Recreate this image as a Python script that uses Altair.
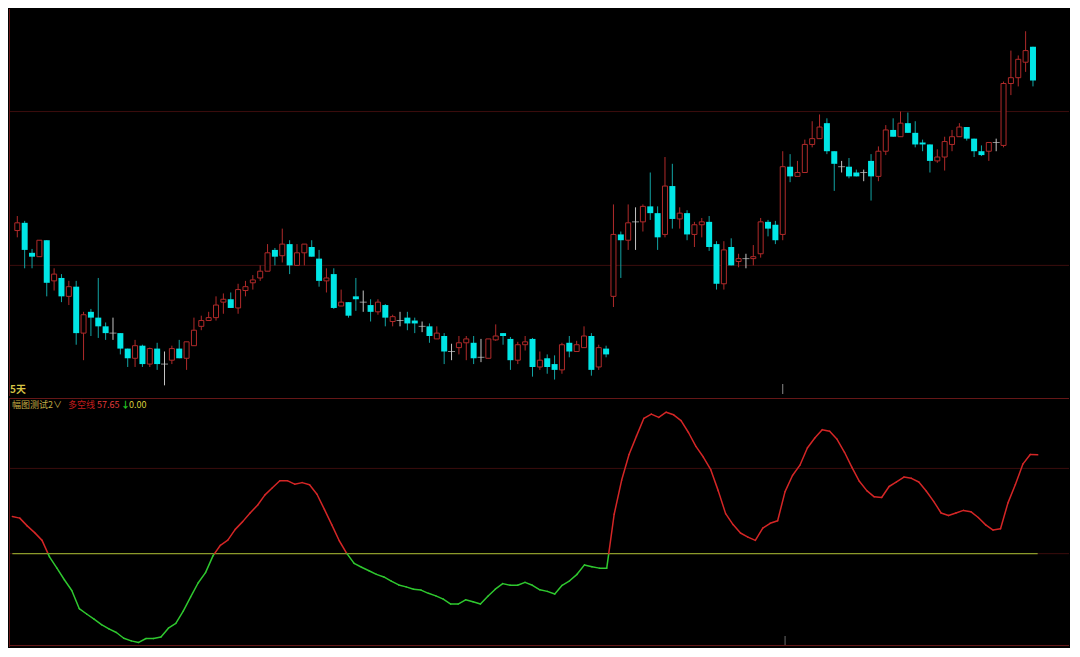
import altair as alt
import pandas as pd
import numpy as np

# ---------------- data ----------------
opens = [11.71, 11.79, 11.48, 11.44, 11.61, 11.19, 11.22, 11.03, 11.13, 10.65,
         10.87, 10.81, 10.72, 10.65, 10.65, 10.49, 10.39, 10.52, 10.33, 10.49,
         10.33, 10.37, 10.49, 10.39, 10.52, 10.72, 10.78, 10.81, 10.97, 11.00,
         10.91, 11.09, 11.17, 11.22, 11.29, 11.51, 11.45, 11.57, 11.35, 11.48,
         11.54, 11.42, 11.19, 11.26, 10.93, 10.97, 11.03, 10.97, 10.94, 10.87,
         10.94, 10.77, 10.78, 10.81, 10.78, 10.72, 10.72, 10.59, 10.62, 10.46,
         10.50, 10.55, 10.55, 10.40, 10.39, 10.58, 10.65, 10.59, 10.37, 10.53,
         10.59, 10.30, 10.39, 10.33, 10.27, 10.55, 10.46, 10.50, 10.62, 10.30,
         10.49, 11.03, 11.67, 11.61, 11.80, 11.80, 11.96, 11.89, 11.67, 12.17,
         11.83, 11.89, 11.67, 11.77, 11.80, 11.57, 11.16, 11.54, 11.39, 11.42,
         11.42, 11.47, 11.80, 11.77, 11.67, 12.37, 12.27, 12.31, 12.60, 12.66,
         12.82, 12.53, 12.37, 12.37, 12.31, 12.31, 12.43, 12.27, 12.53, 12.75,
         12.68, 12.82, 12.72, 12.62, 12.60, 12.43, 12.47, 12.60, 12.68, 12.78,
         12.66, 12.53, 12.53, 12.62, 12.59, 13.23, 13.29, 13.45, 13.61]
highs = [11.86, 11.81, 11.52, 11.61, 11.61, 11.32, 11.26, 11.19, 11.19, 10.87,
         10.90, 11.22, 10.76, 10.81, 10.65, 10.49, 10.58, 10.53, 10.50, 10.55,
         10.46, 10.52, 10.58, 10.56, 10.81, 10.83, 10.87, 11.03, 11.06, 11.07,
         11.16, 11.19, 11.25, 11.35, 11.57, 11.53, 11.73, 11.61, 11.57, 11.57,
         11.61, 11.51, 11.32, 11.32, 11.10, 10.97, 11.22, 11.09, 11.00, 11.00,
         10.95, 10.84, 10.87, 10.87, 10.81, 10.77, 10.75, 10.72, 10.65, 10.54,
         10.62, 10.62, 10.62, 10.59, 10.59, 10.74, 10.65, 10.61, 10.56, 10.62,
         10.60, 10.46, 10.43, 10.42, 10.55, 10.62, 10.57, 10.72, 10.65, 10.53,
         10.52, 11.98, 11.70, 11.98, 11.95, 11.98, 12.31, 11.96, 12.47, 12.40,
         11.95, 11.92, 11.80, 11.84, 11.86, 11.60, 11.60, 11.63, 11.47, 11.47,
         11.56, 11.84, 11.82, 11.81, 12.53, 12.50, 12.43, 12.65, 12.84, 12.91,
         12.87, 12.53, 12.43, 12.46, 12.34, 12.34, 12.50, 12.58, 12.80, 12.87,
         12.94, 12.93, 12.84, 12.65, 12.60, 12.55, 12.68, 12.75, 12.82, 12.78,
         12.66, 12.59, 12.62, 12.66, 13.25, 13.57, 13.52, 13.77, 13.61]
lows = [11.64, 11.32, 11.32, 11.44, 11.03, 11.09, 10.97, 10.94, 10.53, 10.37,
        10.62, 10.60, 10.58, 10.58, 10.43, 10.30, 10.30, 10.30, 10.30, 10.27,
        10.11, 10.33, 10.39, 10.27, 10.52, 10.68, 10.78, 10.78, 10.85, 10.91,
        10.85, 11.03, 11.10, 11.19, 11.29, 11.35, 11.38, 11.26, 11.35, 11.35,
        11.44, 11.13, 11.07, 10.90, 10.93, 10.81, 10.88, 10.87, 10.77, 10.84,
        10.72, 10.72, 10.72, 10.68, 10.65, 10.66, 10.55, 10.59, 10.33, 10.37,
        10.43, 10.37, 10.33, 10.35, 10.39, 10.57, 10.53, 10.27, 10.33, 10.47,
        10.20, 10.27, 10.23, 10.17, 10.23, 10.40, 10.46, 10.50, 10.21, 10.27,
        10.40, 10.92, 11.22, 11.51, 11.51, 11.70, 11.82, 11.51, 11.64, 11.73,
        11.73, 11.61, 11.54, 11.64, 11.50, 11.10, 11.10, 11.35, 11.33, 11.32,
        11.35, 11.43, 11.65, 11.57, 11.61, 12.21, 12.27, 12.31, 12.57, 12.66,
        12.50, 12.12, 12.31, 12.25, 12.27, 12.22, 12.02, 12.22, 12.49, 12.68,
        12.68, 12.72, 12.57, 12.53, 12.31, 12.41, 12.33, 12.53, 12.68, 12.64,
        12.47, 12.48, 12.43, 12.53, 12.57, 13.11, 13.20, 13.35, 13.20]
closes = [11.79, 11.51, 11.44, 11.61, 11.17, 11.26, 11.03, 11.13, 10.65, 10.84,
          10.81, 10.72, 10.65, 10.65, 10.49, 10.39, 10.52, 10.33, 10.49, 10.33,
          10.33, 10.49, 10.39, 10.56, 10.68, 10.78, 10.81, 10.94, 11.00, 10.91,
          11.10, 11.13, 11.20, 11.29, 11.48, 11.44, 11.57, 11.35, 11.48, 11.57,
          11.44, 11.19, 11.22, 10.91, 10.97, 10.83, 11.00, 10.97, 10.87, 10.97,
          10.81, 10.82, 10.78, 10.75, 10.75, 10.72, 10.62, 10.65, 10.46, 10.46,
          10.55, 10.59, 10.39, 10.40, 10.59, 10.62, 10.62, 10.37, 10.53, 10.56,
          10.30, 10.37, 10.30, 10.27, 10.53, 10.46, 10.53, 10.62, 10.27, 10.50,
          10.43, 11.67, 11.61, 11.79, 11.80, 11.96, 11.89, 11.64, 12.17, 11.83,
          11.89, 11.67, 11.77, 11.80, 11.54, 11.16, 11.51, 11.35, 11.42, 11.42,
          11.44, 11.80, 11.73, 11.61, 12.37, 12.27, 12.31, 12.60, 12.66, 12.78,
          12.53, 12.40, 12.37, 12.27, 12.27, 12.31, 12.27, 12.53, 12.75, 12.68,
          12.82, 12.72, 12.60, 12.60, 12.43, 12.47, 12.63, 12.68, 12.78, 12.66,
          12.53, 12.49, 12.62, 12.62, 13.23, 13.29, 13.48, 13.57, 13.26]

# 多空线 indicator (one value per bar)
indicator = [52.88, 52.75, 52.15, 51.63, 51.03, 49.75, 48.88, 47.98, 47.15, 45.75,
             45.33, 44.93, 44.50, 44.18, 43.90, 43.45, 43.25, 43.13, 43.43, 43.43,
             43.55, 44.23, 44.60, 45.55, 46.65, 47.73, 48.53, 49.83, 50.65, 51.05,
             51.88, 52.48, 53.15, 53.75, 54.55, 55.10, 55.65, 55.65, 55.38, 55.50,
             55.33, 54.60, 53.43, 52.23, 51.00, 50.03, 49.25, 48.95, 48.68, 48.40,
             48.20, 47.88, 47.58, 47.43, 47.25, 47.18, 46.93, 46.73, 46.48, 46.10,
             46.10, 46.43, 46.28, 46.10, 46.70, 47.25, 47.68, 47.55, 47.55, 47.78,
             47.55, 47.20, 47.08, 46.88, 47.55, 47.90, 48.40, 49.13, 48.98, 48.88,
             48.88, 53.05, 55.68, 57.68, 59.10, 60.48, 60.80, 60.55, 60.95, 60.75,
             60.30, 59.38, 58.30, 57.48, 56.50, 54.88, 53.10, 52.25, 51.60, 51.28,
             51.03, 51.98, 52.35, 52.55, 54.80, 56.05, 56.85, 58.18, 58.95, 59.60,
             59.48, 58.85, 57.85, 56.68, 55.60, 54.88, 54.40, 54.35, 55.20, 55.55,
             55.93, 55.83, 55.55, 54.85, 54.05, 53.15, 52.95, 53.15, 53.35, 53.25,
             52.80, 52.23, 51.83, 51.93, 53.93, 55.35, 56.93, 57.68, 57.65]

price_grid = [12.94, 11.35]
ind_grid = [56.6, 50.0]
ind_level = 50.0
marker_bar = 104

# ---------------- styling / layout ----------------
W = 1060
H_TOP = 387
H_BOT = 249
X_DOMAIN = [-0.45, -0.45 + W / 7.43]
BG = "#000000"
UP = "#b02a2a"
DOWN = "#00e6e6"
DOWN_WICK = "#12a4a4"
FLAT = "#c4c4c4"
LINE_UP = "#d42626"
LINE_DN = "#2fc82f"
GRID = "#3c0d0d"
BORDER = "#661717"
FONT = "Noto Sans CJK SC"

n = len(opens)
df = pd.DataFrame({"i": list(range(n)), "open": opens, "high": highs,
                   "low": lows, "close": closes})
df["kind"] = np.where(df["close"] > df["open"], "up",
                      np.where(df["close"] < df["open"], "down", "flat"))
df["wick"] = df["kind"].map({"up": UP, "down": DOWN_WICK, "flat": FLAT})
df["top"] = df[["open", "close"]].max(axis=1)
df["bot"] = df[["open", "close"]].min(axis=1)

xs = alt.Scale(domain=X_DOMAIN, nice=False, zero=False)
ys_top = alt.Scale(domain=[10.0, 14.0], nice=False, zero=False)
ys_bot = alt.Scale(domain=[42.775, 62.05], nice=False, zero=False)

X = alt.X("i:Q", scale=xs, axis=None)

base = alt.Chart(df)

grid_top = alt.Chart(pd.DataFrame({"p": price_grid})).mark_rule(
    color=GRID, strokeWidth=1).encode(y=alt.Y("p:Q", scale=ys_top, axis=None))

wicks = base.mark_rule(strokeWidth=1).encode(
    x=X,
    y=alt.Y("low:Q", scale=ys_top, axis=None),
    y2="high:Q",
    color=alt.Color("wick:N", scale=None, legend=None),
)

up_bodies = base.transform_filter(alt.datum.kind == "up").mark_bar(
    size=5, fill=BG, stroke=UP, strokeWidth=1).encode(
    x=X, y=alt.Y("bot:Q", scale=ys_top, axis=None), y2="top:Q")

down_bodies = base.transform_filter(alt.datum.kind == "down").mark_bar(
    size=6, color=DOWN).encode(
    x=X, y=alt.Y("top:Q", scale=ys_top, axis=None), y2="bot:Q")

flats = base.transform_filter(alt.datum.kind == "flat").mark_tick(
    orient="horizontal", size=7, thickness=1, color=FLAT).encode(
    x=X, y=alt.Y("open:Q", scale=ys_top, axis=None))

one = pd.DataFrame({"a": [0]})
left_border_top = alt.Chart(one).mark_rule(color=BORDER, strokeWidth=1).encode(
    x=alt.value(0.5), y=alt.value(0), y2=alt.value(H_TOP))
marker_top = alt.Chart(pd.DataFrame({"m": [marker_bar]})).mark_rule(
    color="#8a8a8a", strokeWidth=1).encode(
    x=alt.X("m:Q", scale=xs, axis=None), y=alt.value(H_TOP - 12), y2=alt.value(H_TOP - 2))
label_days = alt.Chart(one).mark_text(
    text="5天", align="left", baseline="middle", font=FONT, fontSize=10,
    fontWeight="bold", color="#d6c445").encode(x=alt.value(1), y=alt.value(H_TOP - 6))

top = alt.layer(grid_top, wicks, up_bodies, down_bodies, flats,
                left_border_top, marker_top, label_days).properties(
    width=W, height=H_TOP)

# ---- indicator panel ----
segs = []
for k in range(n - 1):
    a, b = indicator[k], indicator[k + 1]
    if (a - ind_level) * (b - ind_level) < 0:
        t = (ind_level - a) / (b - a)
        xm = k + t
        segs.append((k, a, xm, ind_level, LINE_UP if a > ind_level else LINE_DN))
        segs.append((xm, ind_level, k + 1, b, LINE_UP if b > ind_level else LINE_DN))
    else:
        segs.append((k, a, k + 1, b,
                     LINE_UP if (a + b) / 2 >= ind_level else LINE_DN))
seg_df = pd.DataFrame(segs, columns=["x0", "y0", "x1", "y1", "col"])

grid_bot = alt.Chart(pd.DataFrame({"v": ind_grid})).mark_rule(
    color=GRID, strokeWidth=1).encode(y=alt.Y("v:Q", scale=ys_bot, axis=None))

level_line = alt.Chart(pd.DataFrame({"x0": [0], "x1": [n - 1], "v": [ind_level]})).mark_rule(
    color="#8a9a2a", strokeWidth=1.3).encode(
    x=alt.X("x0:Q", scale=xs, axis=None), x2="x1:Q",
    y=alt.Y("v:Q", scale=ys_bot, axis=None))

ind_line = alt.Chart(seg_df).mark_rule(strokeWidth=1.5, strokeCap="round").encode(
    x=alt.X("x0:Q", scale=xs, axis=None), x2="x1:Q",
    y=alt.Y("y0:Q", scale=ys_bot, axis=None), y2="y1:Q",
    color=alt.Color("col:N", scale=None, legend=None),
)

sep_line = alt.Chart(one).mark_rule(color=BORDER, strokeWidth=1.2).encode(
    y=alt.value(0.5), x=alt.value(0), x2=alt.value(W))
bottom_line = alt.Chart(one).mark_rule(color=BORDER, strokeWidth=1).encode(
    y=alt.value(H_BOT - 1.5), x=alt.value(0), x2=alt.value(W))
left_border_bot = alt.Chart(one).mark_rule(color=BORDER, strokeWidth=1).encode(
    x=alt.value(0.5), y=alt.value(0), y2=alt.value(H_BOT))
marker_bot = alt.Chart(pd.DataFrame({"m": [marker_bar]})).mark_rule(
    color="#6a6a6a", strokeWidth=1).encode(
    x=alt.X("m:Q", scale=xs, axis=None), y=alt.value(H_BOT - 11), y2=alt.value(H_BOT - 2))


def label(txt, x, color, size=9, weight="normal"):
    return alt.Chart(one).mark_text(
        text=txt, align="left", baseline="middle", font=FONT, fontSize=size,
        fontWeight=weight, color=color).encode(x=alt.value(x), y=alt.value(7))


titles = [
    label("幅图测试2∨", 3, "#c2ad45"),
    label("多空线", 59, "#c01c1c"),
    label(f"{indicator[-1]:.2f}", 88, "#e43a3a"),
    label("↓", 112, "#22c422", weight="bold"),
    label("0.00", 120, "#d8cf3c"),
]

bottom = alt.layer(grid_bot, level_line, ind_line, sep_line, bottom_line,
                   left_border_bot, marker_bot, *titles).properties(
    width=W, height=H_BOT)

chart = alt.vconcat(top, bottom, spacing=0).properties(
    background=BG, padding=0).configure_view(stroke=None)

chart.save("out.html", embed_options={"renderer": "svg", "actions": False})
